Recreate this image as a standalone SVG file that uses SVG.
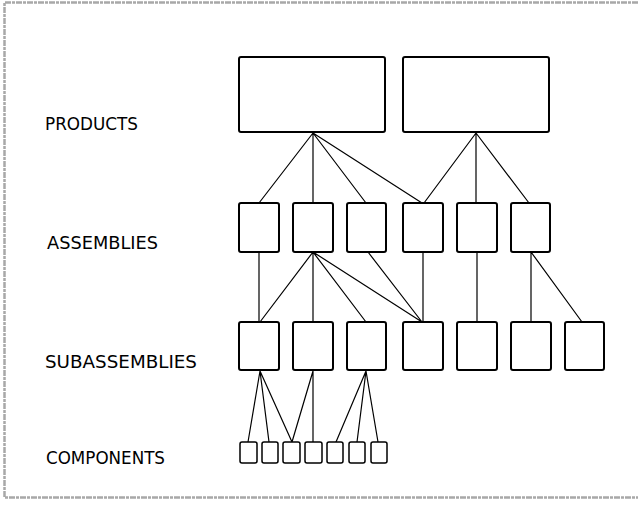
<svg xmlns="http://www.w3.org/2000/svg" width="638" height="509" viewBox="0 0 638 509">
<style>
.frame{fill:none;stroke:#a8a8a8;stroke-width:2.5;stroke-dasharray:6 1 3 1}
.box{fill:#fff;stroke:#000;stroke-width:2}
.cbox{fill:#fff;stroke:#000;stroke-width:1.5}
.ln{stroke:#000;stroke-width:1.2;fill:none;stroke-linecap:round}
.lbl{font-family:"DejaVu Sans Condensed","Liberation Sans",sans-serif;font-size:18px;fill:#000}
</style>
<rect width="638" height="509" fill="#fff"/>
<path class="frame" d="M638,2.5 H4.5 V497.5 H638"/>
<g id="connectors">
<path class="ln" d="M313,133 L259,203 M313,133 L313,203 M313,133 L366,203 M313,133 L422,203"/>
<path class="ln" d="M476,133 L424,203 M476,133 L476,203 M476,133 L529,203"/>
<path class="ln" d="M259,252 L259,322 M313,252 L260,322 M313,252 L313,322 M313,252 L366,322 M313,252 L422,322 M368,252 L422,322 M423,252 L423,322 M477,252 L477,322 M531,252 L531,322 M531,252 L582,322"/>
<path class="ln" d="M260,371 L248,442 M260,371 L269,442 M260,371 L292,442 M313,371 L292,442 M313,371 L313,442 M366,371 L336,442 M366,371 L357,442 M366,371 L378,442"/>
</g>
<g id="product1"><rect class="box" x="239" y="57" width="146" height="75" rx="2"/></g>
<g id="product2"><rect class="box" x="403" y="57" width="146" height="75" rx="2"/></g>
<g id="assembly1"><rect class="box" x="239" y="203" width="40" height="49" rx="2"/></g>
<g id="assembly2"><rect class="box" x="293" y="203" width="40" height="49" rx="2"/></g>
<g id="assembly3"><rect class="box" x="347" y="203" width="39" height="49" rx="2"/></g>
<g id="assembly4"><rect class="box" x="403" y="203" width="40" height="49" rx="2"/></g>
<g id="assembly5"><rect class="box" x="457" y="203" width="40" height="49" rx="2"/></g>
<g id="assembly6"><rect class="box" x="511" y="203" width="39" height="49" rx="2"/></g>
<g id="sub1"><rect class="box" x="239" y="322" width="40" height="48" rx="2"/></g>
<g id="sub2"><rect class="box" x="293" y="322" width="40" height="48" rx="2"/></g>
<g id="sub3"><rect class="box" x="347" y="322" width="39" height="48" rx="2"/></g>
<g id="sub4"><rect class="box" x="403" y="322" width="40" height="48" rx="2"/></g>
<g id="sub5"><rect class="box" x="457" y="322" width="40" height="48" rx="2"/></g>
<g id="sub6"><rect class="box" x="511" y="322" width="40" height="48" rx="2"/></g>
<g id="sub7"><rect class="box" x="565" y="322" width="39" height="48" rx="2"/></g>
<g id="comp1"><rect class="cbox" x="240" y="442" width="17" height="21" rx="2"/></g>
<g id="comp2"><rect class="cbox" x="262" y="442" width="16" height="21" rx="2"/></g>
<g id="comp3"><rect class="cbox" x="283" y="442" width="17" height="21" rx="2"/></g>
<g id="comp4"><rect class="cbox" x="305" y="442" width="17" height="21" rx="2"/></g>
<g id="comp5"><rect class="cbox" x="327" y="442" width="16" height="21" rx="2"/></g>
<g id="comp6"><rect class="cbox" x="349" y="442" width="16" height="21" rx="2"/></g>
<g id="comp7"><rect class="cbox" x="371" y="442" width="16" height="21" rx="2"/></g>
<g id="labels">
<text class="lbl" x="45" y="130" textLength="93" lengthAdjust="spacingAndGlyphs">PRODUCTS</text>
<text class="lbl" x="47" y="249" textLength="111" lengthAdjust="spacingAndGlyphs">ASSEMBLIES</text>
<text class="lbl" x="45" y="368" textLength="152" lengthAdjust="spacingAndGlyphs">SUBASSEMBLIES</text>
<text class="lbl" x="46" y="464" textLength="119" lengthAdjust="spacingAndGlyphs">COMPONENTS</text>
</g>
</svg>
